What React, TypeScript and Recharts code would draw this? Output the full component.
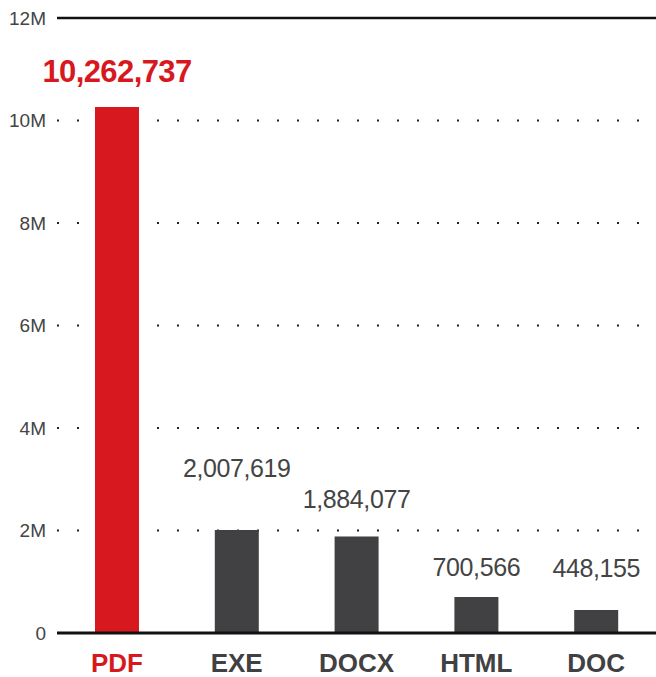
import { BarChart, Bar, XAxis, YAxis, CartesianGrid, ReferenceLine, LabelList, Cell } from 'recharts';

const categories = ['PDF', 'EXE', 'DOCX', 'HTML', 'DOC'];
const counts = [10262737, 2007619, 1884077, 700566, 448155];
const yTicks = [0, 2000000, 4000000, 6000000, 8000000, 10000000, 12000000];

const data = categories.map((name, i) => ({ name, count: counts[i] }));

const RED = '#d7191f';
const DARK = '#414143';
const FONT = '"Liberation Sans", Arial, sans-serif';

// how far above the bar top each value label sits (px), as in the original layout
const labelLift: Record<string, number> = { PDF: 36, EXE: 62, DOCX: 37, HTML: 30, DOC: 42 };

function formatTick(v: number): string {
  return v === 0 ? '0' : `${v / 1000000}M`;
}

function ValueLabel({ x, y, width, value, index }: any) {
  const name = categories[index];
  const highlight = name === 'PDF';
  return (
    <text
      x={x + width / 2}
      y={y - labelLift[name]}
      textAnchor="middle"
      dominantBaseline="central"
      fontFamily={FONT}
      fontSize={highlight ? 31 : 25}
      fontWeight={highlight ? 700 : 400}
      letterSpacing={highlight ? -0.6 : -0.4}
      fill={highlight ? RED : '#444'}
    >
      {Number(value).toLocaleString('en-US')}
    </text>
  );
}

function CategoryTick({ x, y, payload }: any) {
  return (
    <text
      x={x}
      y={y + 30}
      textAnchor="middle"
      dominantBaseline="central"
      fontFamily={FONT}
      fontSize={26}
      fontWeight={700}
      fill={payload.value === 'PDF' ? RED : DARK}
    >
      {payload.value}
    </text>
  );
}

function ValueTick({ y, payload }: any) {
  return (
    <text
      x={46}
      y={y}
      textAnchor="end"
      dominantBaseline="central"
      fontFamily={FONT}
      fontSize={19}
      fill="#444"
    >
      {formatTick(payload.value)}
    </text>
  );
}

export default function App() {
  return (
    <div style={{ position: 'absolute', left: 0, top: 0, width: 656, height: 677, background: '#fff' }}>
      <BarChart width={656} height={677} data={data} margin={{ top: 18, right: 0, left: 0, bottom: 0 }}>
        <CartesianGrid vertical={false} stroke="#222" strokeWidth={2} strokeDasharray="2 18" />
        <XAxis
          dataKey="name"
          height={44}
          tickLine={false}
          tickSize={0}
          tickMargin={0}
          axisLine={{ stroke: '#111', strokeWidth: 3 }}
          tick={<CategoryTick />}
          interval={0}
        />
        <YAxis
          width={57}
          domain={[0, 12000000]}
          ticks={yTicks}
          axisLine={false}
          tickLine={false}
          tick={<ValueTick />}
        />
        <ReferenceLine y={12000000} stroke="#111" strokeWidth={2.5} />
        <Bar dataKey="count" barSize={44} isAnimationActive={false}>
          {data.map((d) => (
            <Cell key={d.name} fill={d.name === 'PDF' ? RED : DARK} />
          ))}
          <LabelList dataKey="count" content={<ValueLabel />} />
        </Bar>
      </BarChart>
    </div>
  );
}
